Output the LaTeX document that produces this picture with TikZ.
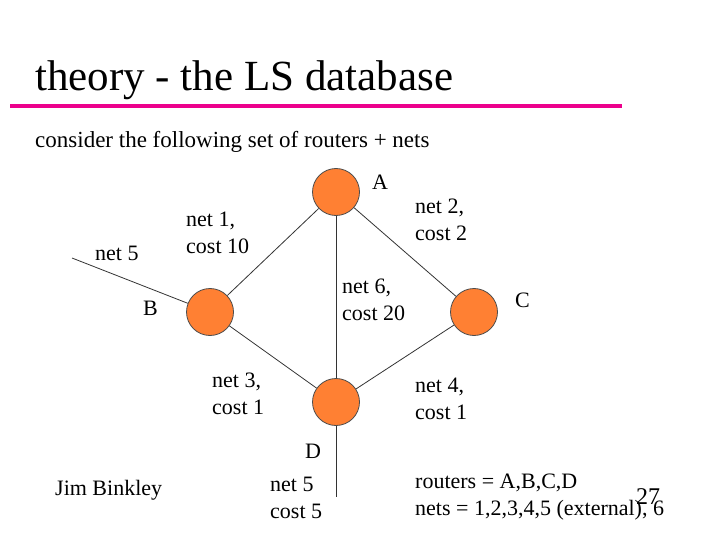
\documentclass[tikz,border=0pt]{standalone}
\usepackage{fontspec}
\setmainfont{Liberation Serif}
\begin{document}
\begin{tikzpicture}[x=1pt,y=-1pt,
  router/.style={circle,draw=black!70,fill=orange!75!red!80!white,minimum size=47pt,inner sep=0pt,line width=0.8pt},
  lbl/.style={anchor=west,align=left,inner sep=0pt,font=\fontsize{22}{27}\selectfont},
  link/.style={black!80,line width=0.8pt}]
  \useasboundingbox (0,0) rectangle (720,540);

  %%% heading
  \node[anchor=west,inner sep=0pt,font=\fontsize{43}{46}\selectfont] (title) at (35,80) {theory - the LS database};
  \draw[magenta,line width=4pt] (10,106) -- (622,106);
  \node[lbl,font=\fontsize{23}{27}\selectfont] (sub) at (35,142) {consider the following set of routers + nets};

  %%% routers
  \node[router] (A) at (336,192) {};
  \node[router] (B) at (210,312) {};
  \node[router] (C) at (474,312) {};
  \node[router] (D) at (336,402) {};
  \coordinate (ext5) at (72,258);
  \coordinate (dn5) at (336,497);

  %%% nets
  \draw[link] (A) -- (B);
  \draw[link] (A) -- (C);
  \draw[link] (A) -- (D);
  \draw[link] (B) -- (D);
  \draw[link] (C) -- (D);
  \draw[link] (ext5) -- (B);
  \draw[link] (D) -- (dn5);

  %%% labels
  \node[lbl] (la) at (372,182) {A};
  \node[lbl] (lb) at (143,308) {B};
  \node[lbl] (lc) at (515,300) {C};
  \node[lbl] (ld) at (305,451) {D};
  \node[lbl] (n1) at (186,233) {net 1,\\cost 10};
  \node[lbl] (n2) at (415,220) {net 2,\\cost 2};
  \node[lbl] (n5) at (95,253) {net 5};
  \node[lbl] (n6) at (342,300) {net 6,\\cost 20};
  \node[lbl] (n3) at (212,394) {net 3,\\cost 1};
  \node[lbl] (n4) at (415,399) {net 4,\\cost 1};
  \node[lbl] (n5b) at (270,498) {net 5\\cost 5};
  \node[lbl] (jb) at (55,490) {Jim Binkley};
  \node[lbl] (sum) at (415,497) {routers = A,B,C,D\\nets = 1,2,3,4,5 (external), 6};
  \node[lbl,font=\fontsize{24}{26}\selectfont] (pg) at (636,497) {27};
\end{tikzpicture}
\end{document}
